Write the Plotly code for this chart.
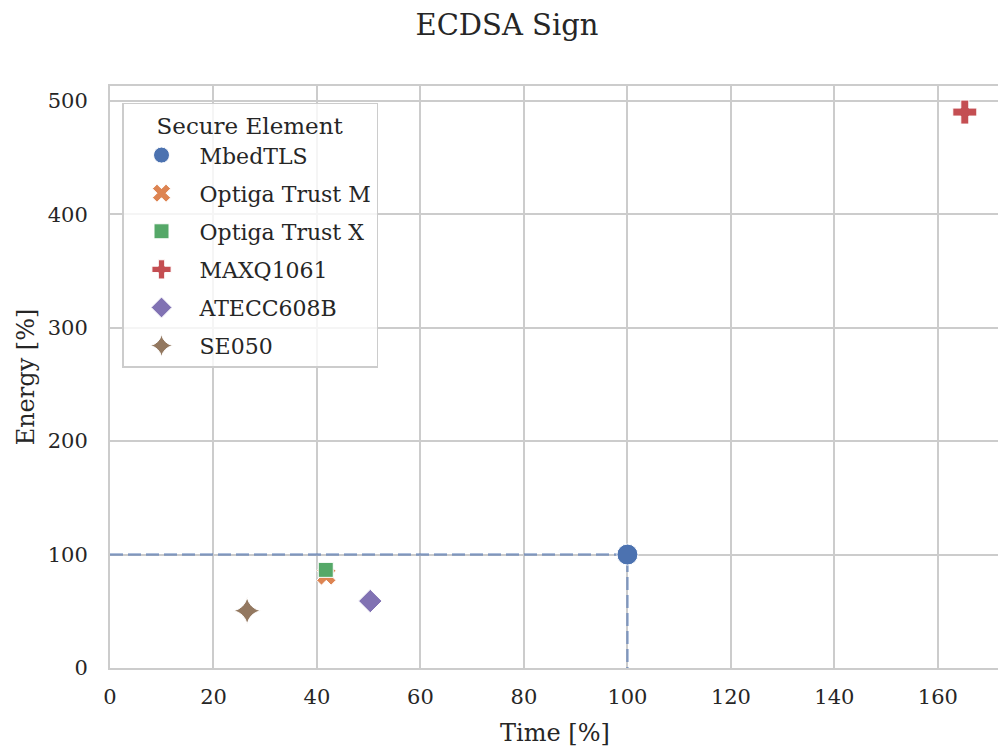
import plotly.graph_objects as go

names = ["MbedTLS", "Optiga Trust M", "Optiga Trust X", "MAXQ1061", "ATECC608B", "SE050"]
time_pct = [100.0, 41.8, 41.7, 165.2, 50.3, 26.5]
energy_pct = [100.0, 81.5, 86.5, 490.0, 59.0, 50.5]
colors = ["#4c72b0", "#dd8452", "#55a868", "#c44e52", "#8172b3", "#937860"]
symbols = ["circle", "x", "square", "cross", "diamond", "star-diamond"]
sizes = [21, 17, 15, 20, 18, 19]

ref_x = [0, 100, 100]
ref_y = [100, 100, 0]

FONT = "DejaVu Serif"
TXT = "#262626"

fig = go.Figure()

# reference dashed lines through the MbedTLS baseline
fig.add_trace(go.Scatter(
    x=ref_x, y=ref_y, mode="lines",
    line=dict(color="rgba(76,114,176,0.6)", width=2.5, dash="13px,5px"),
    showlegend=False, hoverinfo="skip",
))

for i, n in enumerate(names):
    fig.add_trace(go.Scatter(
        x=[time_pct[i]], y=[energy_pct[i]], mode="markers", name=n,
        legendgroup=n,
        marker=dict(color=colors[i], symbol=symbols[i], size=sizes[i],
                    line=dict(color="white", width=1)),
    ))

axis_common = dict(
    showgrid=True, gridcolor="#cccccc", gridwidth=1.5,
    showline=True, linecolor="#cccccc", linewidth=2, mirror=True,
    zeroline=False, ticks="outside", tickcolor="rgba(0,0,0,0)",
    automargin=False,
    tickfont=dict(family=FONT, size=21, color=TXT),
)

# page body has an 8px margin, so the figure is sized/offset to compensate
fig.update_layout(
    width=998, height=746,
    paper_bgcolor="white", plot_bgcolor="white",
    margin=dict(l=102, r=6, t=78, b=86),
    title=dict(text="ECDSA Sign", x=0.5, xanchor="center", y=0.9775, yanchor="middle",
               font=dict(family=FONT, size=29, color=TXT)),
    xaxis=dict(range=[0, 172], tickvals=[0, 20, 40, 60, 80, 100, 120, 140, 160],
               ticklen=9,
               title=dict(text="Time [%]", font=dict(family=FONT, size=24, color=TXT), standoff=16),
               **axis_common),
    yaxis=dict(range=[0, 513], tickvals=[0, 100, 200, 300, 400, 500],
               ticklen=16,
               title=dict(text="Energy [%]", font=dict(family=FONT, size=24, color=TXT), standoff=6),
               **axis_common),
    legend=dict(
        x=0.0135, y=0.971, xanchor="left", yanchor="top",
        bgcolor="rgba(255,255,255,0.8)", bordercolor="#cccccc", borderwidth=1.5,
        title=dict(text="Secure Element", side="top center",
                   font=dict(family=FONT, size=23, color=TXT)),
        font=dict(family=FONT, size=22, color=TXT),
        tracegroupgap=6.5, itemwidth=66,
    ),
    showlegend=True,
)

fig.write_html("out.html")
